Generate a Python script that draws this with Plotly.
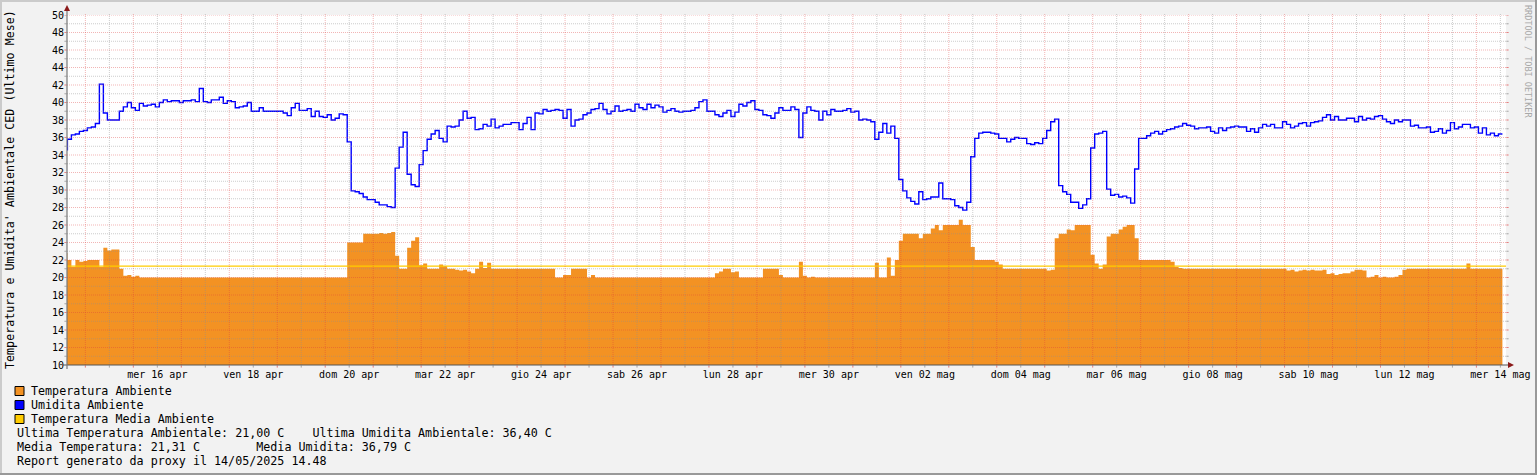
import pandas as pd
import plotly.graph_objects as go

# ---------------- DATA ----------------
SERIES_START = "2025-04-14 13:00"   # first 2-hour sample
STEP = "2h"
VIEW_START = "2025-04-14 14:48"
VIEW_END = "2025-05-14 14:48"

umidita = [
    34.6, 35.8, 36.3, 36.4, 36.7, 36.8, 37.1, 37.2, 37.6, 42.1, 38.8, 38.0,
    38.0, 38.0, 39.0, 39.5, 40.0, 39.4, 39.1, 39.9, 39.6, 39.7, 39.8, 39.5,
    40.0, 40.3, 40.1, 40.2, 40.2, 40.0, 40.2, 40.2, 40.3, 40.1, 41.6, 40.1,
    40.0, 40.3, 40.3, 40.6, 39.9, 40.2, 40.1, 39.4, 39.5, 39.6, 40.0, 39.0,
    39.0, 39.4, 39.0, 39.0, 39.0, 39.0, 39.0, 38.8, 38.5, 39.4, 39.9, 39.1,
    39.1, 39.3, 38.4, 39.0, 38.4, 38.3, 38.6, 38.0, 38.2, 38.7, 38.6, 35.5,
    29.9, 29.8, 29.6, 29.2, 28.9, 28.9, 28.6, 28.3, 28.3, 28.1, 28.0, 32.5,
    34.9, 36.6, 31.8, 30.6, 30.4, 32.9, 34.5, 35.8, 36.4, 36.8, 35.9, 35.5,
    37.3, 37.2, 37.3, 38.0, 39.0, 38.2, 38.3, 36.9, 37.0, 37.5, 37.3, 38.1,
    37.1, 37.3, 37.5, 37.5, 37.7, 37.7, 36.9, 37.6, 38.3, 36.9, 38.8, 38.7,
    39.2, 39.0, 39.1, 39.2, 39.1, 38.2, 39.2, 37.3, 38.0, 38.1, 38.6, 38.8,
    39.2, 39.3, 39.9, 39.2, 38.7, 39.0, 39.6, 39.0, 39.1, 39.2, 39.0, 39.8,
    39.4, 39.2, 39.8, 39.4, 39.7, 39.5, 38.9, 39.1, 39.3, 39.0, 38.9, 39.0,
    39.0, 39.1, 39.4, 40.1, 40.3, 39.0, 39.0, 38.6, 38.4, 38.8, 39.1, 38.4,
    38.9, 39.8, 39.6, 40.0, 40.2, 39.2, 39.1, 38.6, 38.5, 38.2, 38.8, 39.4,
    39.1, 39.1, 39.5, 39.2, 36.0, 38.8, 39.5, 39.1, 39.0, 38.0, 39.0, 38.6,
    39.2, 39.0, 39.0, 39.1, 39.3, 38.9, 39.0, 38.0, 38.1, 38.0, 37.8, 35.8,
    36.6, 37.6, 36.5, 37.3, 35.9, 31.2, 29.9, 29.1, 28.7, 28.4, 29.8, 28.9,
    29.0, 29.2, 29.2, 30.8, 29.0, 29.0, 28.9, 28.2, 28.0, 27.7, 28.6, 33.8,
    35.9, 36.5, 36.6, 36.6, 36.5, 36.4, 35.9, 35.9, 35.5, 35.8, 36.0, 35.9,
    35.9, 35.3, 35.2, 35.4, 35.3, 35.9, 36.8, 37.8, 38.1, 30.5, 29.8, 29.5,
    28.6, 28.6, 27.9, 28.3, 29.0, 34.8, 36.4, 36.5, 36.7, 30.1, 29.4, 29.5,
    29.2, 29.3, 29.1, 28.5, 32.4, 35.9, 35.9, 36.2, 36.5, 36.7, 36.4, 36.7,
    36.9, 37.0, 37.2, 37.3, 37.6, 37.4, 37.3, 37.0, 37.1, 37.1, 37.2, 36.7,
    36.5, 37.1, 36.8, 37.1, 37.2, 37.3, 37.2, 37.2, 36.7, 37.0, 36.6, 37.1,
    37.5, 37.3, 37.5, 37.1, 37.1, 37.8, 37.5, 37.1, 37.3, 37.6, 37.7, 37.3,
    37.7, 37.8, 37.9, 38.3, 38.6, 38.0, 38.4, 38.0, 38.0, 38.2, 38.2, 37.8,
    38.4, 38.0, 38.2, 38.1, 38.4, 38.5, 38.1, 37.8, 37.6, 38.0, 37.8, 38.0,
    38.0, 37.3, 37.4, 37.1, 37.1, 37.2, 36.6, 36.7, 37.0, 36.5, 36.8, 37.7,
    37.0, 37.2, 37.5, 37.5, 37.1, 37.2, 36.5, 37.1, 36.3, 36.5, 36.2, 36.4,
    36.4,
]

temperatura = [
    22.8, 22.0, 21.2, 22.0, 21.8, 21.9, 22.0, 22.0, 22.0, 21.2, 23.4, 23.1,
    23.2, 23.2, 21.0, 20.2, 20.3, 20.1, 20.2, 20.0, 20.0, 20.0, 20.0, 20.0,
    20.0, 20.0, 20.0, 20.0, 20.0, 20.0, 20.0, 20.0, 20.0, 20.0, 20.0, 20.0,
    20.0, 20.0, 20.0, 20.0, 20.0, 20.0, 20.0, 20.0, 20.0, 20.0, 20.0, 20.0,
    20.0, 20.0, 20.0, 20.0, 20.0, 20.0, 20.0, 20.0, 20.0, 20.0, 20.0, 20.0,
    20.0, 20.0, 20.0, 20.0, 20.0, 20.0, 20.0, 20.0, 20.0, 20.0, 20.0, 24.0,
    24.0, 24.0, 24.0, 25.0, 25.0, 25.0, 25.0, 25.1, 25.0, 25.1, 25.2, 22.5,
    21.0, 21.0, 23.4, 24.2, 24.6, 21.4, 21.6, 21.0, 21.0, 21.0, 21.5, 21.3,
    21.0, 21.0, 20.9, 20.8, 20.9, 20.7, 20.5, 21.0, 21.8, 21.1, 21.7, 21.0,
    21.0, 21.0, 21.0, 21.0, 21.0, 21.0, 21.0, 21.0, 21.0, 21.0, 21.0, 21.0,
    21.0, 21.0, 21.0, 20.0, 20.0, 20.3, 20.3, 21.0, 21.0, 21.0, 21.0, 20.0,
    20.3, 20.0, 20.0, 20.0, 20.0, 20.0, 20.0, 20.0, 20.0, 20.0, 20.0, 20.0,
    20.0, 20.0, 20.0, 20.0, 20.0, 20.0, 20.0, 20.0, 20.0, 20.0, 20.0, 20.0,
    20.0, 20.0, 20.0, 20.0, 20.0, 20.0, 20.0, 20.5, 20.7, 21.0, 21.0, 20.6,
    20.7, 20.0, 20.0, 20.0, 20.0, 20.0, 20.0, 21.0, 21.0, 21.0, 21.0, 20.3,
    20.0, 20.0, 20.0, 20.0, 21.8, 20.2, 20.0, 20.1, 20.0, 20.0, 20.0, 20.0,
    20.0, 20.0, 20.0, 20.0, 20.0, 20.0, 20.0, 20.0, 20.0, 20.0, 20.0, 21.7,
    20.0, 20.0, 22.3, 20.2, 22.0, 24.2, 25.0, 25.0, 25.0, 25.0, 24.5, 25.0,
    25.0, 25.6, 26.0, 25.4, 26.0, 26.0, 26.0, 26.0, 26.6, 26.0, 26.0, 23.5,
    22.0, 22.0, 22.0, 22.0, 22.0, 21.8, 21.5, 21.0, 21.0, 21.0, 21.0, 21.0,
    21.0, 21.0, 21.0, 21.0, 21.0, 21.0, 20.8, 20.9, 24.5, 25.0, 25.0, 25.5,
    25.4, 26.0, 26.0, 26.0, 26.0, 22.6, 21.6, 21.0, 21.5, 24.7, 25.0, 25.0,
    25.5, 25.8, 26.0, 26.0, 24.5, 22.0, 22.0, 22.0, 22.0, 22.0, 22.0, 22.0,
    22.0, 21.8, 21.2, 21.1, 21.0, 21.0, 21.0, 21.0, 21.0, 21.0, 21.0, 21.0,
    21.0, 21.0, 21.0, 21.0, 21.0, 21.0, 21.0, 21.0, 21.0, 21.0, 21.0, 21.0,
    21.0, 21.0, 21.0, 21.0, 21.0, 21.0, 20.8, 20.9, 20.7, 20.8, 20.9, 20.8,
    20.9, 20.8, 20.8, 20.9, 20.4, 20.5, 20.3, 20.4, 20.5, 20.5, 20.7, 20.9,
    20.9, 20.8, 20.0, 20.1, 20.3, 20.0, 20.1, 20.0, 20.0, 20.1, 20.3, 20.9,
    21.0, 21.0, 21.0, 21.0, 21.0, 21.0, 21.0, 21.0, 21.0, 21.0, 21.0, 21.0,
    21.0, 21.0, 21.0, 21.6, 21.0, 21.0, 21.0, 21.0, 21.0, 21.0, 21.0, 21.0,
    21.0,
]

MEDIA_TEMP = 21.31
MEDIA_UMID = 36.79
ULTIMA_TEMP = 21.00
ULTIMA_UMID = 36.40

tick_days = ["2025-04-16", "2025-04-18", "2025-04-20", "2025-04-22", "2025-04-24",
             "2025-04-26", "2025-04-28", "2025-04-30", "2025-05-02", "2025-05-04",
             "2025-05-06", "2025-05-08", "2025-05-10", "2025-05-12", "2025-05-14"]
tick_labels = ["mer 16 apr", "ven 18 apr", "dom 20 apr", "mar 22 apr", "gio 24 apr",
               "sab 26 apr", "lun 28 apr", "mer 30 apr", "ven 02 mag", "dom 04 mag",
               "mar 06 mag", "gio 08 mag", "sab 10 mag", "lun 12 mag", "mer 14 mag"]

legend_names = ["Temperatura Ambiente", "Umidita Ambiente", "Temperatura Media Ambiente"]
Y_TITLE = "Temperatura e Umidita' Ambientale CED (Ultimo Mese)"
WATERMARK = "RRDTOOL / TOBI OETIKER"
REPORT = "Report generato da proxy il 14/05/2025 14.48"

# ---------------- STYLE ----------------
C_TEMP = "#F39223"
C_UMID = "#0000FF"
C_MEDIA = "#FFCC00"
C_BACK = "#F2F2F2"
C_MGRID = "rgba(222,60,60,0.38)"
C_GRID = "rgba(143,143,143,0.45)"
FONT = "DejaVu Sans Mono"
LEG_SIZE = 11.7

W, H = 1537, 475
L, R, T, B = 67, 1506, 15, 365


def pxx(x):
    return (x - L) / (R - L)


def pxy(y):
    return (B - y) / (B - T)


n = min(len(umidita), len(temperatura))
times = pd.date_range(SERIES_START, periods=n, freq=STEP)

fig = go.Figure()
fig.add_trace(go.Scatter(x=times, y=temperatura[:n], mode="lines", line=dict(width=0, shape="hv"),
                         fill="tozeroy", fillcolor=C_TEMP, hoverinfo="skip", showlegend=False))
fig.add_trace(go.Scatter(x=times, y=umidita[:n], mode="lines",
                         line=dict(color=C_UMID, width=1.4, shape="hv"),
                         hoverinfo="skip", showlegend=False))
fig.add_trace(go.Scatter(x=[VIEW_START, VIEW_END], y=[MEDIA_TEMP, MEDIA_TEMP], mode="lines",
                         line=dict(color=C_MEDIA, width=1.3), hoverinfo="skip", showlegend=False))

shapes = []
# grid on top (as rrdtool draws it)
for v in range(11, 51):
    col = C_MGRID if v % 2 == 0 else C_GRID
    shapes.append(dict(type="line", xref="paper", yref="y", x0=pxx(L - 2), x1=pxx(R + 2), y0=v, y1=v,
                       line=dict(color=col, width=1, dash="1px,1px"), layer="above"))
    shapes.append(dict(type="line", xref="paper", yref="y", x0=pxx(L - 3), x1=pxx(L), y0=v, y1=v,
                       line=dict(color=col, width=1), layer="above"))
    shapes.append(dict(type="line", xref="paper", yref="y", x0=pxx(R), x1=pxx(R + 3), y0=v, y1=v,
                       line=dict(color=col, width=1), layer="above"))
for ts in pd.date_range("2025-04-15 00:00", "2025-05-14 12:00", freq="12h"):
    col = C_MGRID if ts.hour == 0 else C_GRID
    shapes.append(dict(type="line", xref="x", yref="paper", x0=ts, x1=ts, y0=pxy(B + 2), y1=pxy(T - 2),
                       line=dict(color=col, width=1, dash="1px,1px"), layer="above"))
    shapes.append(dict(type="line", xref="x", yref="paper", x0=ts, x1=ts, y0=pxy(B + 3), y1=pxy(B),
                       line=dict(color=col, width=1), layer="above"))

# axes lines
shapes.append(dict(type="line", xref="paper", yref="paper", x0=pxx(L - 4), x1=pxx(R + 4), y0=0, y1=0,
                   line=dict(color="#555555", width=1.2), layer="above"))
shapes.append(dict(type="line", xref="paper", yref="paper", x0=0, x1=0, y0=pxy(B + 4), y1=pxy(T - 5),
                   line=dict(color="#777777", width=1.2), layer="above"))
# arrows
shapes.append(dict(type="path", xref="paper", yref="paper",
                   path=f"M {pxx(R+2)} {pxy(B-3)} L {pxx(R+8)} {pxy(B)} L {pxx(R+2)} {pxy(B+3)} Z",
                   fillcolor="#8B1A1A", line=dict(width=0), layer="above"))
shapes.append(dict(type="path", xref="paper", yref="paper",
                   path=f"M {pxx(L-3)} {pxy(T-4)} L {pxx(L)} {pxy(T-10)} L {pxx(L+3)} {pxy(T-4)} Z",
                   fillcolor="#8B1A1A", line=dict(width=0), layer="above"))

# frame (shade)
shapes += [
    dict(type="rect", xref="paper", yref="paper", x0=pxx(0), x1=pxx(W), y0=pxy(0), y1=pxy(2),
         fillcolor="#CBCBCB", line=dict(width=0)),
    dict(type="rect", xref="paper", yref="paper", x0=pxx(0), x1=pxx(2), y0=pxy(0), y1=pxy(H),
         fillcolor="#CBCBCB", line=dict(width=0)),
    dict(type="rect", xref="paper", yref="paper", x0=pxx(0), x1=pxx(W), y0=pxy(H - 2), y1=pxy(H),
         fillcolor="#999999", line=dict(width=0)),
    dict(type="rect", xref="paper", yref="paper", x0=pxx(W - 2), x1=pxx(W), y0=pxy(0), y1=pxy(H),
         fillcolor="#999999", line=dict(width=0)),
]

# legend swatches
sw_colors = [C_TEMP, C_UMID, C_MEDIA]
rows_y = [391, 405, 419]
annotations = []
for name, c, yy in zip(legend_names, sw_colors, rows_y):
    shapes.append(dict(type="rect", xref="paper", yref="paper", x0=pxx(15), x1=pxx(24),
                       y0=pxy(yy - 4.5), y1=pxy(yy + 4.5), fillcolor=c,
                       line=dict(color="#000000", width=1)))
    annotations.append(dict(xref="paper", yref="paper", x=pxx(29), y=pxy(yy), text=name,
                            showarrow=False, xanchor="left", yanchor="middle",
                            font=dict(family=FONT, size=LEG_SIZE, color="#000")))

nb = "\u00a0"
line1 = (f"Ultima Temperatura Ambientale: {ULTIMA_TEMP:.2f} C".replace(".", ",") + nb * 4 +
         f"Ultima Umidita Ambientale: {ULTIMA_UMID:.2f} C".replace(".", ","))
line2 = (f"Media Temperatura: {MEDIA_TEMP:.2f} C".replace(".", ",") + nb * 8 +
         f"Media Umidita: {MEDIA_UMID:.2f} C".replace(".", ","))
for txt, yy in zip([line1, line2, REPORT], [433, 447, 461]):
    annotations.append(dict(xref="paper", yref="paper", x=pxx(15), y=pxy(yy), text=txt.replace(" ", nb),
                            showarrow=False, xanchor="left", yanchor="middle",
                            font=dict(family=FONT, size=LEG_SIZE, color="#000")))

annotations.append(dict(xref="paper", yref="paper", x=pxx(10), y=pxy(190), text=Y_TITLE.replace(" ", nb),
                        textangle=-90, showarrow=False, xanchor="center", yanchor="middle",
                        font=dict(family=FONT, size=LEG_SIZE, color="#000")))
annotations.append(dict(xref="paper", yref="paper", x=pxx(1528), y=pxy(61), text=WATERMARK.replace(" ", nb),
                        textangle=90, showarrow=False, xanchor="center", yanchor="middle",
                        font=dict(family=FONT, size=8.5, color="#A8A8A8")))

tick_pos = [pd.Timestamp(d) + pd.Timedelta(hours=12) for d in tick_days]

fig.update_layout(
    width=W, height=H, autosize=False,
    margin=dict(l=L, r=W - R, t=T, b=H - B, pad=0, autoexpand=False),
    paper_bgcolor=C_BACK, plot_bgcolor="#FFFFFF",
    showlegend=False,
    shapes=shapes, annotations=annotations,
    xaxis=dict(range=[VIEW_START, VIEW_END], showgrid=False, zeroline=False, showline=False,
               automargin=False,
               tickmode="array", tickvals=tick_pos, ticktext=tick_labels, ticks="",
               tickfont=dict(family=FONT, size=10, color="#000"), ticklabelstandoff=2),
    yaxis=dict(range=[10, 50], showgrid=False, zeroline=False, showline=False,
               automargin=False,
               tickmode="array", tickvals=list(range(10, 51, 2)),
               ticktext=[str(v) for v in range(10, 51, 2)], ticks="",
               tickfont=dict(family=FONT, size=10, color="#000"), ticklabelstandoff=2),
)

fig.write_html("out.html", config={"displayModeBar": False, "responsive": False},
               post_script="document.body.style.margin='0';document.body.style.overflow='hidden';")
